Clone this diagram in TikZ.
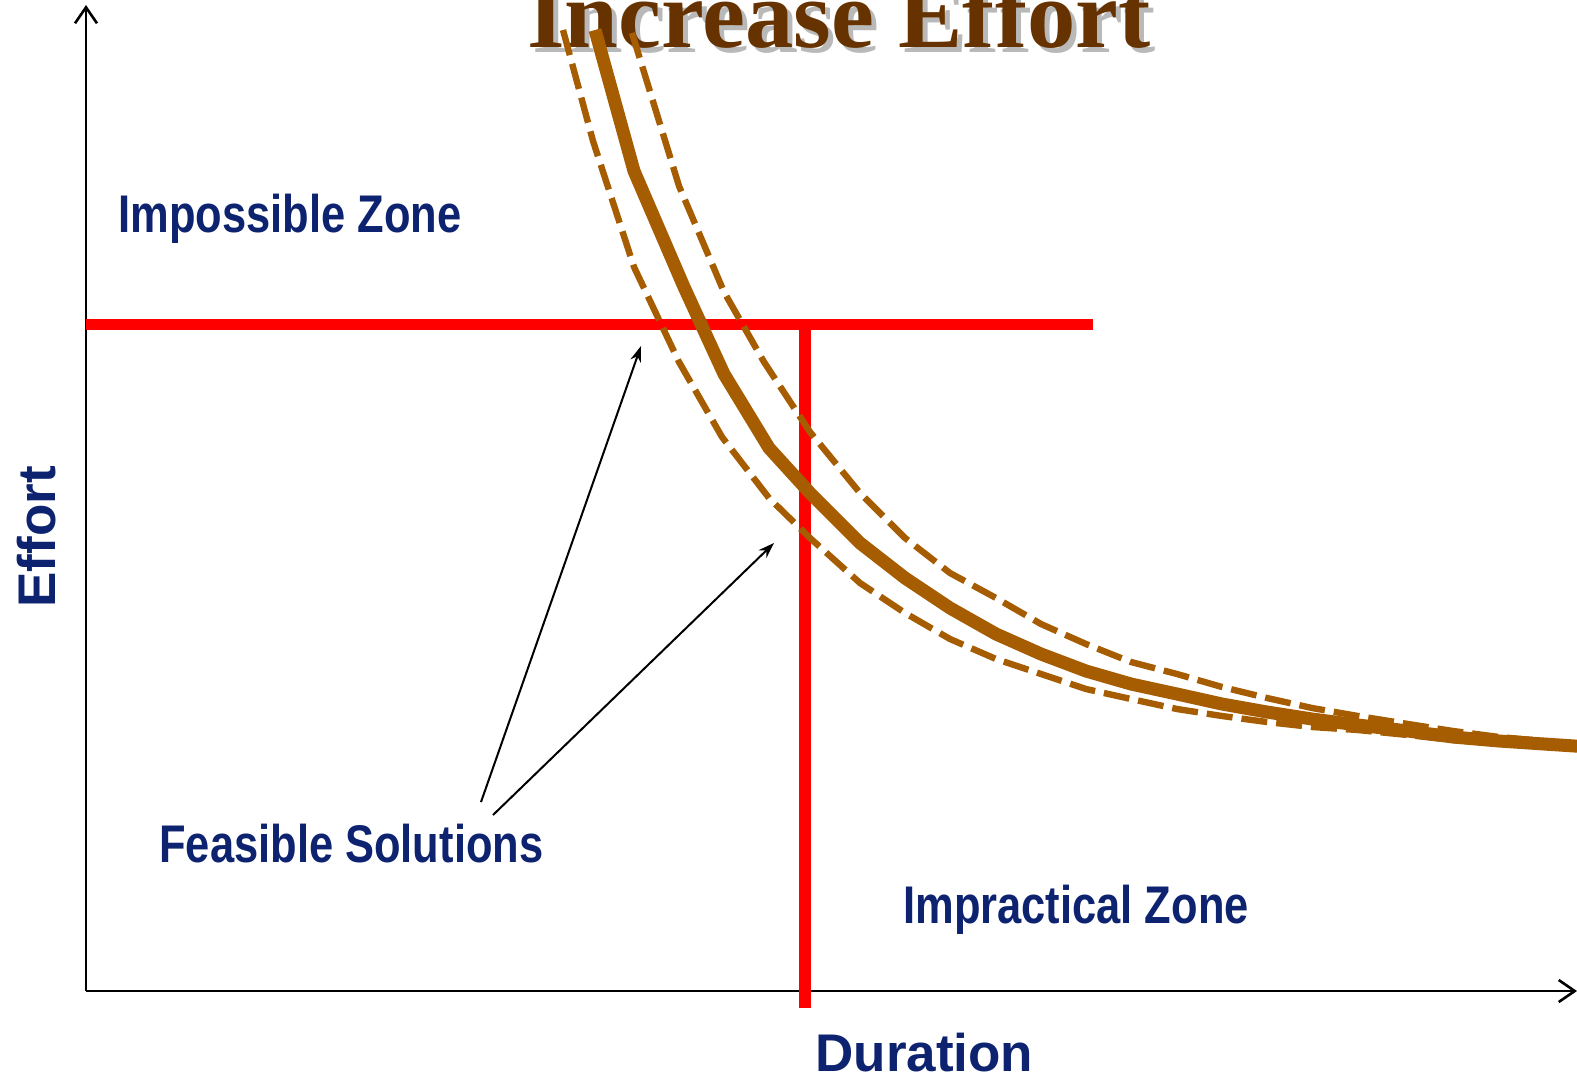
\documentclass[tikz,border=0pt]{standalone}
\usepackage{fontspec}
\setmainfont{Liberation Sans}
\newfontfamily\titlefont{Liberation Serif}
\newfontfamily\narrowfont[FakeStretch=0.82]{Liberation Sans}
\usetikzlibrary{arrows.meta}
\definecolor{curvebrown}{RGB}{166,92,0}
\definecolor{titlebrown}{RGB}{102,51,0}
\definecolor{navy}{RGB}{13,35,112}
\definecolor{shadowgray}{RGB}{185,185,185}
\tikzset{
  axis/.style={line width=1.3pt, -{Straight Barb[length=8pt,width=11pt,line width=1.3pt]}},
  redline/.style={red, line width=5.5pt},
  maincurve/.style={curvebrown, line width=6.5pt},
  dashcurve/.style={curvebrown, line width=3.2pt, dash pattern=on 13pt off 4.5pt},
  zonelabel/.style={font=\narrowfont\bfseries\fontsize{26.5pt}{30pt}\selectfont, text=navy, anchor=base west, inner sep=0pt},
  axislabel/.style={font=\bfseries\fontsize{26.5pt}{30pt}\selectfont, text=navy, anchor=base west, inner sep=0pt},
  pointer/.style={line width=1pt, -{Stealth[length=8pt,width=5.5pt]}},
  titletext/.style={anchor=base west, inner sep=0pt, font=\titlefont\bfseries\fontsize{48.3pt}{50pt}\selectfont},
}
\begin{document}
\begin{tikzpicture}[x=0.5pt, y=-0.5pt]
\useasboundingbox (0,0) rectangle (1577,1077);
\clip (0,0) rectangle (1577,1077);
% axes
\coordinate (origin) at (86,991);
\coordinate (ytip) at (86,5);
\coordinate (xtip) at (1577,991);
\draw[axis] (origin) -- (ytip);
\draw[axis] (origin) -- (xtip);
% red limits
\coordinate (hl) at (86,324);
\coordinate (hr) at (1093,324);
\coordinate (vt) at (805,324);
\coordinate (vb) at (805,1008);
\draw[redline] (hl) -- (hr);
\draw[redline, line width=6pt] (vt) -- (vb);
% title
\node[titletext, text=shadowgray] (titleshadow) at (532,52) {Increase Effort};
\node[titletext, text=titlebrown] (title) at (527,47) {Increase Effort};
% curves
\draw[maincurve] (595,30) -- (634,171) -- (684,287) -- (724,374) -- (769,448) -- (810,493) -- (860,543) -- (905,578) -- (950,608) -- (996,634) -- (1041,654) -- (1086,671) -- (1131,684) -- (1177,694) -- (1222,704) -- (1267,712) -- (1312,719) -- (1358,725) -- (1408,731) -- (1453,737) -- (1499,741) -- (1544,744) -- (1590,747);
\draw[dashcurve] (632,33) -- (679,186) -- (724,292) -- (764,362) -- (810,432) -- (860,493) -- (905,538) -- (950,573) -- (996,598) -- (1041,624) -- (1086,644) -- (1131,662) -- (1177,674) -- (1222,687) -- (1267,698) -- (1312,708) -- (1358,716) -- (1408,724) -- (1453,731) -- (1499,737) -- (1544,741) -- (1590,745);
\draw[dashcurve] (563,30) -- (593,141) -- (634,267) -- (679,362) -- (722,437) -- (769,498) -- (810,538) -- (860,583) -- (905,613) -- (950,639) -- (996,659) -- (1041,674) -- (1086,689) -- (1131,699) -- (1177,709) -- (1222,716) -- (1267,722) -- (1312,727) -- (1358,730) -- (1408,735) -- (1453,740) -- (1499,743) -- (1544,746) -- (1590,749);
% labels
\node[zonelabel] (impossible) at (118,232) {Impossible Zone};
\node[zonelabel] (feasible) at (159,862) {Feasible Solutions};
\node[zonelabel] (impractical) at (903,923) {Impractical Zone};
\node[axislabel] (duration) at (815,1071) {Duration};
\node[axislabel, rotate=90] (effort) at (55,608) {Effort};
% pointers
\coordinate (p1s) at (481,802);
\coordinate (p1e) at (641,346);
\coordinate (p2s) at (493,815);
\coordinate (p2e) at (774,543);
\draw[pointer] (p1s) -- (p1e);
\draw[pointer] (p2s) -- (p2e);
\end{tikzpicture}
\end{document}
